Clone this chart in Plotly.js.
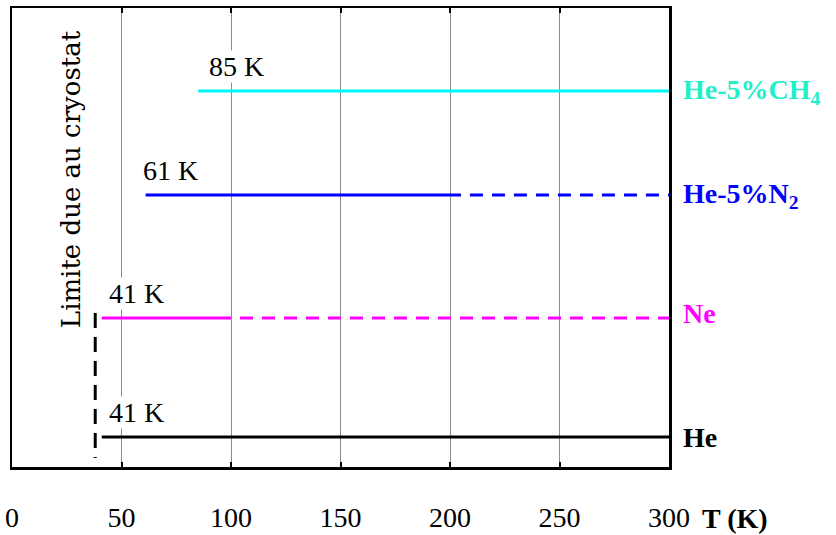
<!DOCTYPE html>
<html>
<head>
<meta charset="utf-8">
<script src="https://cdn.plot.ly/plotly-3.0.1.min.js"></script>
<style>html,body{margin:0;padding:0;background:#fff;}#chart{width:836px;height:535px;}</style>
</head>
<body>
<div id="chart"></div>
<script>
// Data
const seriesNames = ['He', 'Ne', 'He-5%N<sub>2</sub>', 'He-5%CH<sub>4</sub>'];
const rowLevel = [30, 149, 272, 376];          // vertical row of each gas
const onsetK = [41, 41, 61, 85];               // lowest temperature reached
const solidEndK = [300, 100, 205, 300];        // end of the solid (measured) segment
const xMaxK = 300;
const cryostatLimitK = 38;
const tickVals = [0, 50, 100, 150, 200, 250, 300];

// Styles
const lineColors = ['#000000', '#ff00ff', '#0000ff', '#00f5f5'];
const labelColors = ['#000000', '#ff00ff', '#0000ff', '#1ef0c8'];
const onsetLabelShift = [6, 6, -4, 10];
const nameLabelShiftY = [0, 5, 0, 0];

const serif = 'Liberation Serif, Times New Roman, serif';
const traces = [];
for (let i = 0; i < seriesNames.length; i++) {
  traces.push({
    x: [onsetK[i], solidEndK[i]], y: [rowLevel[i], rowLevel[i]],
    mode: 'lines', line: {color: lineColors[i], width: 3}, showlegend: false, hoverinfo: 'skip'
  });
  if (solidEndK[i] < xMaxK) {
    traces.push({
      x: [solidEndK[i], xMaxK], y: [rowLevel[i], rowLevel[i]],
      mode: 'lines', line: {color: lineColors[i], width: 3, dash: '0px,9px,13px,0px'}, showlegend: false, hoverinfo: 'skip'
    });
  }
}
// cryostat limit
traces.push({
  x: [cryostatLimitK, cryostatLimitK], y: [rowLevel[1] + 5, 9],
  mode: 'lines', line: {color: '#000', width: 3, dash: '15px,9px'}, showlegend: false, hoverinfo: 'skip'
});

const annotations = [];
for (let i = 0; i < seriesNames.length; i++) {
  annotations.push({
    x: onsetK[i], y: rowLevel[i], xref: 'x', yref: 'y', xanchor: 'left', yanchor: 'middle',
    xshift: onsetLabelShift[i], yshift: 25, text: onsetK[i] + ' K', showarrow: false,
    font: {family: serif, size: 28, color: '#000'}, bgcolor: '#fff', borderpad: 0
  });
  annotations.push({
    x: 1, y: rowLevel[i], xref: 'paper', yref: 'y', xanchor: 'left', yanchor: 'middle',
    xshift: 12, yshift: nameLabelShiftY[i], text: '<b>' + seriesNames[i] + '</b>', showarrow: false,
    font: {family: serif, size: 28, color: labelColors[i]}
  });
}
annotations.push({
  x: 1, y: 0, xref: 'paper', yref: 'paper', xanchor: 'left', yanchor: 'middle',
  xshift: 31, yshift: -51, text: '<b>T (K)</b>', showarrow: false,
  font: {family: serif, size: 28, color: '#000'}
});
annotations.push({
  x: 27, y: 288, xref: 'x', yref: 'y', xanchor: 'center', yanchor: 'middle',
  text: 'Limite due au cryostat', textangle: -90, showarrow: false,
  font: {family: 'DejaVu Serif, serif', size: 26, color: '#000'}
});

const layout = {
  width: 836, height: 535,
  margin: {l: 12, r: 167, t: 8, b: 68},
  paper_bgcolor: '#fff', plot_bgcolor: '#fff',
  showlegend: false,
  xaxis: {
    range: [0, 300], tickvals: tickVals, ticktext: tickVals.map(String),
    showgrid: true, gridcolor: '#8c8c8c', gridwidth: 1,
    zeroline: false, showline: true, linecolor: '#000', linewidth: 2.5, mirror: 'allticks',
    ticks: 'inside', ticklen: 5, tickwidth: 2, tickcolor: '#000',
    ticklabelstandoff: 24,
    tickfont: {family: serif, size: 28, color: '#000'}
  },
  yaxis: {
    range: [0, 459], showgrid: false, zeroline: false, showticklabels: false,
    showline: true, linecolor: '#000', linewidth: 2.5, mirror: true, ticks: ''
  },
  annotations: annotations
};
Plotly.newPlot('chart', traces, layout, {staticPlot: true, displayModeBar: false});
</script>
</body>
</html>
